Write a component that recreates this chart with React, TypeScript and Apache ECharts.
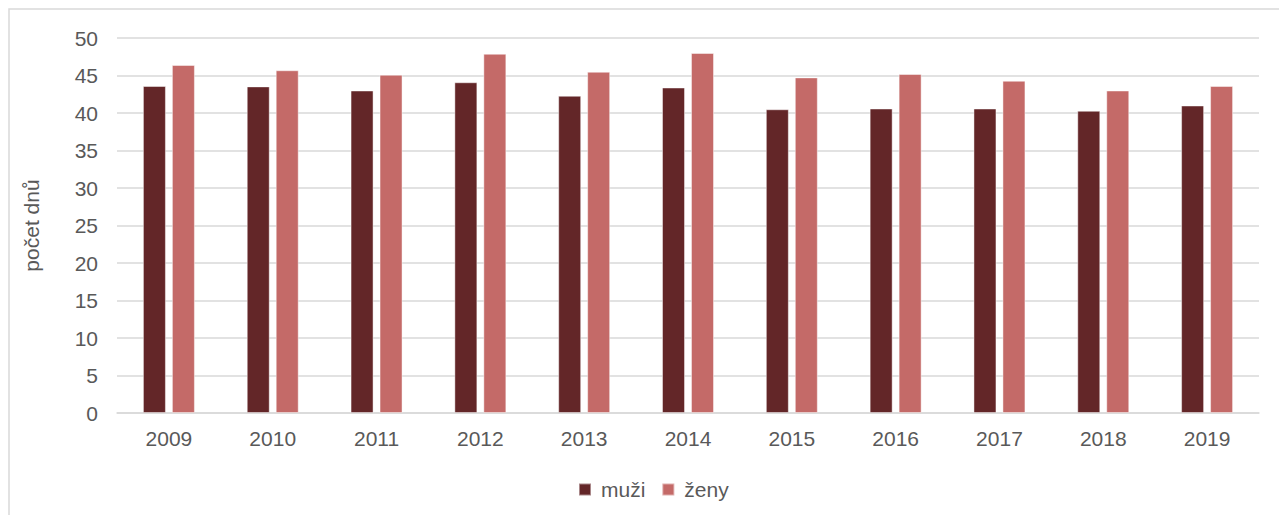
import React, { useEffect, useRef } from "react";
import * as echarts from "echarts";

const years = ["2009", "2010", "2011", "2012", "2013", "2014", "2015", "2016", "2017", "2018", "2019"];
const muzi = [43.6, 43.55, 43.0, 44.1, 42.3, 43.4, 40.5, 40.6, 40.6, 40.3, 41.0];
const zeny = [46.4, 45.7, 45.1, 47.9, 45.5, 48.0, 44.75, 45.2, 44.3, 43.0, 43.6];
const seriesNames = ["muži", "ženy"];
const yAxisName = "počet dnů";

const FONT = "'Liberation Sans', Arial, sans-serif";
const TXT = "#595959";
const FS = 21;

export default function App() {
  const ref = useRef<HTMLDivElement>(null);
  useEffect(() => {
    if (!ref.current) return;
    const chart = echarts.init(ref.current, null, { renderer: "svg" });
    chart.setOption({
      animation: false,
      backgroundColor: "#ffffff",
      textStyle: { fontFamily: FONT },
      graphic: [
        {
          type: "rect",
          shape: { x: 9, y: 9, width: 1320, height: 560 },
          style: { fill: "none", stroke: "#d9d9d9", lineWidth: 1.5 },
          silent: true,
        },
      ],
      grid: { left: 117, top: 38, width: 1142, height: 375, containLabel: false },
      legend: {
        data: seriesNames,
        left: 573,
        top: 474,
        itemWidth: 12,
        itemHeight: 12,
        itemGap: 16,
        icon: "rect",
        textStyle: { color: TXT, fontSize: FS, fontFamily: FONT, padding: [0, 0, 0, 5] },
      },
      xAxis: {
        type: "category",
        data: years,
        axisLine: { lineStyle: { color: "#d9d9d9", width: 1.5 } },
        axisTick: { show: false },
        axisLabel: { color: TXT, fontSize: FS, fontFamily: FONT, margin: 15 },
      },
      yAxis: {
        type: "value",
        min: 0,
        max: 50,
        interval: 5,
        name: yAxisName,
        nameLocation: "middle",
        nameRotate: 90,
        nameGap: 75,
        nameTextStyle: { color: TXT, fontSize: FS, fontFamily: FONT },
        axisLine: { show: false },
        axisTick: { show: false },
        axisLabel: { color: TXT, fontSize: FS, fontFamily: FONT, margin: 19 },
        splitLine: { lineStyle: { color: "#d9d9d9", width: 1.5 } },
      },
      series: [
        {
          name: seriesNames[0],
          type: "bar",
          data: muzi,
          barWidth: 23,
          barGap: "26%",
          itemStyle: { color: "#632628", borderColor: "rgba(255,255,255,0.45)", borderWidth: 1 },
        },
        {
          name: seriesNames[1],
          type: "bar",
          data: zeny,
          barWidth: 23,
          itemStyle: { color: "#C46A68", borderColor: "rgba(255,255,255,0.45)", borderWidth: 1 },
        },
      ],
    });
    return () => chart.dispose();
  }, []);
  return (
    <div
      ref={ref}
      style={{ position: "absolute", left: 0, top: 0, width: 1279, height: 515 }}
    />
  );
}
